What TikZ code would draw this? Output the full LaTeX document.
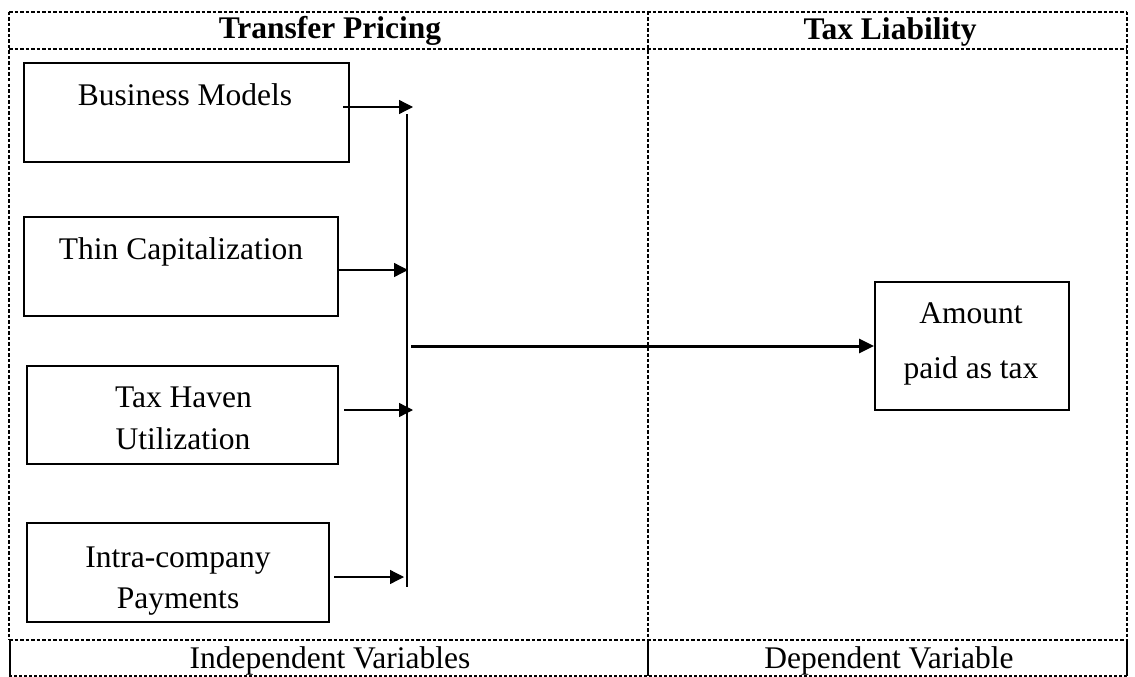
\documentclass[tikz,border=0pt]{standalone}
\usepackage{fontspec}
\setmainfont{Liberation Serif}
\usetikzlibrary{arrows.meta}
\begin{document}
\begin{tikzpicture}[x=1pt,y=-1pt,
  txt/.style={anchor=base,inner sep=0pt,font=\fontsize{31.5}{38}\selectfont},
  ttl/.style={txt,font=\fontsize{31.5}{38}\selectfont\bfseries},
  box/.style={draw,line width=2pt,inner sep=0pt},
  grid/.style={line width=1.8pt,dash pattern=on 3.5pt off 2pt},
  fine/.style={line width=1.2pt,dash pattern=on 3pt off 2pt},
  feed/.style={line width=1.3pt,-{Triangle[length=14pt,width=14pt]}},
  main/.style={line width=3pt,-{Triangle[length=15pt,width=14pt]}}]
\useasboundingbox (0,0) rectangle (1135,677);
% table
\draw[grid] (9,12) -- (1127,12);
\draw[grid] (9,49) -- (1127,49);
\draw[grid] (9,640) -- (1127,640);
\draw[grid] (9,12) -- (9,640);
\draw[grid] (648,12) -- (648,640);
\draw[grid] (1127,12) -- (1127,640);
\draw[fine] (9,676) -- (1127,676);
\draw[line width=1.3pt] (10,640) -- (10,676);
\draw[line width=1.8pt] (648,640) -- (648,676);
\draw[line width=1.3pt] (1127,640) -- (1127,676);
% titles
\node[ttl] (t1) at (330,39) {Transfer Pricing};
\node[ttl] (t2) at (890,40) {Tax Liability};
\node[txt] (f1) at (330,668) {Independent Variables};
\node[txt] (f2) at (889,668) {Dependent Variable};
% boxes
\node[box,minimum width=325pt,minimum height=99pt] (bm) at (186.5,112.5) {};
\node[box,minimum width=314pt,minimum height=99pt] (tc) at (181,266.5) {};
\node[box,minimum width=311pt,minimum height=98pt] (th) at (182.5,415) {};
\node[box,minimum width=302pt,minimum height=99pt] (ip) at (178,572.5) {};
\node[box,minimum width=194pt,minimum height=128pt] (amt) at (972,346) {};
% box texts
\node[txt] (bmt) at (185,106) {Business Models};
\node[txt] (tct) at (181,259) {Thin Capitalization};
\node[txt] (tht1) at (183.5,407) {Tax Haven};
\node[txt] (tht2) at (183,449) {Utilization};
\node[txt] (ipt1) at (178,567) {Intra-company};
\node[txt] (ipt2) at (178,608) {Payments};
\node[txt] (amt1) at (971,323) {Amount};
\node[txt] (amt2) at (971,378) {paid as tax};
% bus
\coordinate (bustop) at (407,114);
\coordinate (busbot) at (407,587);
\draw[line width=1.3pt] (bustop) -- (busbot);
\coordinate (e1) at (413,107);
\coordinate (e2) at (408,270);
\coordinate (e3) at (413,410);
\coordinate (e4) at (404,577);
\coordinate (ms) at (411,346);
\draw[feed] ([xshift=-7pt]bm.east |- e1) -- (e1);
\draw[feed] ([xshift=-2pt]tc.east |- e2) -- (e2);
\draw[feed] ([xshift=5pt]th.east |- e3) -- (e3);
\draw[feed] ([xshift=4pt]ip.east |- e4) -- (e4);
\draw[main] (ms) -- (amt.west);
\end{tikzpicture}
\end{document}
